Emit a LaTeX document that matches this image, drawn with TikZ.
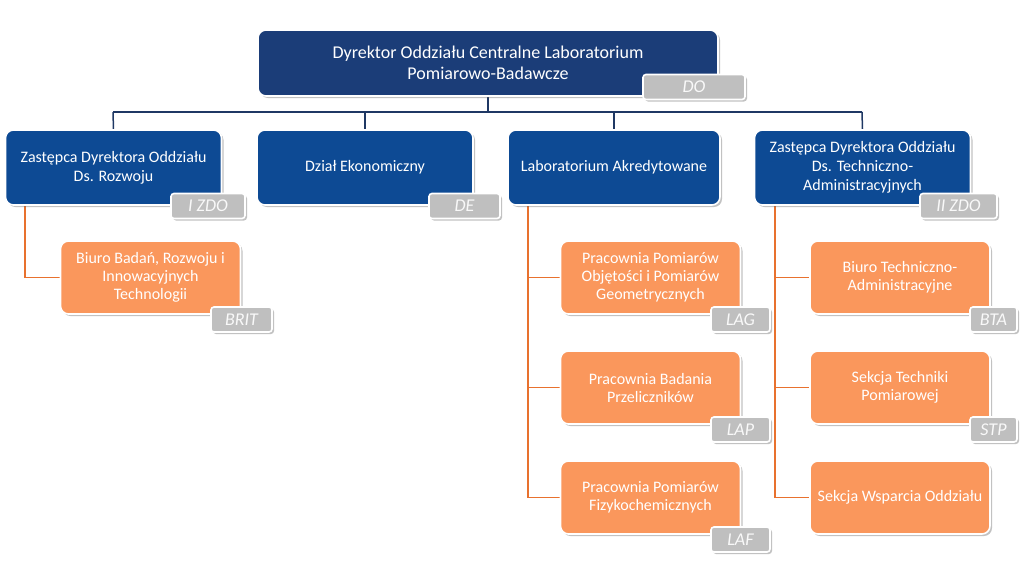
\documentclass[tikz,border=0pt]{standalone}
\usepackage{fontspec}
\setmainfont{Carlito}
\usetikzlibrary{shadows,calc,backgrounds}
\definecolor{topblue}{HTML}{1B3D78}
\definecolor{midblue}{HTML}{0D4A94}
\definecolor{orbox}{HTML}{FA975C}
\definecolor{orline}{HTML}{E8712E}
\definecolor{bline}{HTML}{1F3864}
\definecolor{taggray}{HTML}{BFBFBF}
\tikzset{
  box/.style={draw=white, line width=1.6pt, rounded corners=8pt, text=white, align=center,
    drop shadow={shadow xshift=2pt, shadow yshift=-2pt, opacity=0.4, fill=black!60}},
  topbox/.style={box, fill=topblue, minimum width=460pt, minimum height=66pt, font=\fontsize{18}{21}\selectfont},
  midbox/.style={box, fill=midblue, minimum width=216pt, minimum height=75pt, font=\fontsize{16}{19}\selectfont},
  orbx/.style={box, fill=orbox, minimum width=180pt, minimum height=73pt, font=\fontsize{16}{18}\selectfont},
  tag/.style={draw=white, line width=1.6pt, rounded corners=3pt, fill=taggray, text=white!95!gray,
    font=\fontsize{18}{18}\selectfont\itshape, minimum height=25pt, inner sep=0pt,
    drop shadow={shadow xshift=2pt, shadow yshift=-2pt, opacity=0.4, fill=black!60}},
  bconn/.style={draw=bline, line width=1.5pt},
  oconn/.style={draw=orline, line width=1.2pt},
}
\begin{document}
\begin{tikzpicture}[x=1pt,y=-1pt]
\useasboundingbox (0,0) rectangle (1026,568);
% top
\node[topbox] (do) at (488,63) {Dyrektor Oddziału Centralne Laboratorium\\Pomiarowo-Badawcze};
% level 2
\node[midbox] (izdo) at (113.5,167.5) {Zastępca Dyrektora Oddziału\\Ds. Rozwoju};
\node[midbox] (de) at (365,167.5) {Dział Ekonomiczny};
\node[midbox, minimum width=212pt] (la) at (614,167.5) {Laboratorium Akredytowane};
\node[midbox] (iizdo) at (862.5,167.5) {Zastępca Dyrektora Oddziału\\Ds. Techniczno-\\Administracyjnych};
% level 3
\node[orbx] (brit) at (150.5,277.5) {Biuro Badań, Rozwoju i\\Innowacyjnych\\Technologii};
\node[orbx] (lag) at (650.5,277.5) {Pracownia Pomiarów\\Objętości i Pomiarów\\Geometrycznych};
\node[orbx] (lap) at (650.5,387.5) {Pracownia Badania\\Przeliczników};
\node[orbx] (laf) at (650.5,497.5) {Pracownia Pomiarów\\Fizykochemicznych};
\node[orbx] (bta) at (900,277.5) {Biuro Techniczno-\\Administracyjne};
\node[orbx] (stp) at (900,387.5) {Sekcja Techniki\\Pomiarowej};
\node[orbx] (swo) at (900,497.5) {Sekcja Wsparcia Oddziału};
% tags
\node[tag, minimum width=102pt] (tdo) at (694,87) {DO};
\node[tag, minimum width=74pt] (tizdo) at (208,206) {I ZDO};
\node[tag, minimum width=71pt] (tde) at (464.5,206) {DE};
\node[tag, minimum width=77pt] (tiizdo) at (958.5,206) {II ZDO};
\node[tag, minimum width=61pt] (tbrit) at (241.5,319.5) {BRIT};
\node[tag, minimum width=59pt] (tlag) at (740.5,319.5) {LAG};
\node[tag, minimum width=59pt] (tlap) at (740.5,429.5) {LAP};
\node[tag, minimum width=59pt] (tlaf) at (740.5,539.5) {LAF};
\node[tag, minimum width=47pt] (tbta) at (993.5,319.5) {BTA};
\node[tag, minimum width=47pt] (tstp) at (993.5,429.5) {STP};
% connectors
\begin{pgfonlayer}{background}
\coordinate (bus) at (488,112);
\coordinate (busL) at (113,112);
\coordinate (busR) at (862,112);
\path[bconn] (do.south) -- (bus);
\path[bconn] (busL) -- (busR);
\path[bconn] (busL) -- (izdo.north);
\path[bconn] (de.north |- bus) -- (de.north);
\path[bconn] (la.north |- bus) -- (la.north);
\path[bconn] (busR) -- (iizdo.north);
\coordinate (t1) at (25,205);
\path[oconn] (t1) |- (brit.west);
\coordinate (t2) at (528,205);
\path[oconn] (t2) |- (laf.west);
\path[oconn] (t2 |- lag.west) -- (lag.west);
\path[oconn] (t2 |- lap.west) -- (lap.west);
\coordinate (t3) at (775,205);
\path[oconn] (t3) |- (swo.west);
\path[oconn] (t3 |- bta.west) -- (bta.west);
\path[oconn] (t3 |- stp.west) -- (stp.west);
\end{pgfonlayer}
\end{tikzpicture}
\end{document}
